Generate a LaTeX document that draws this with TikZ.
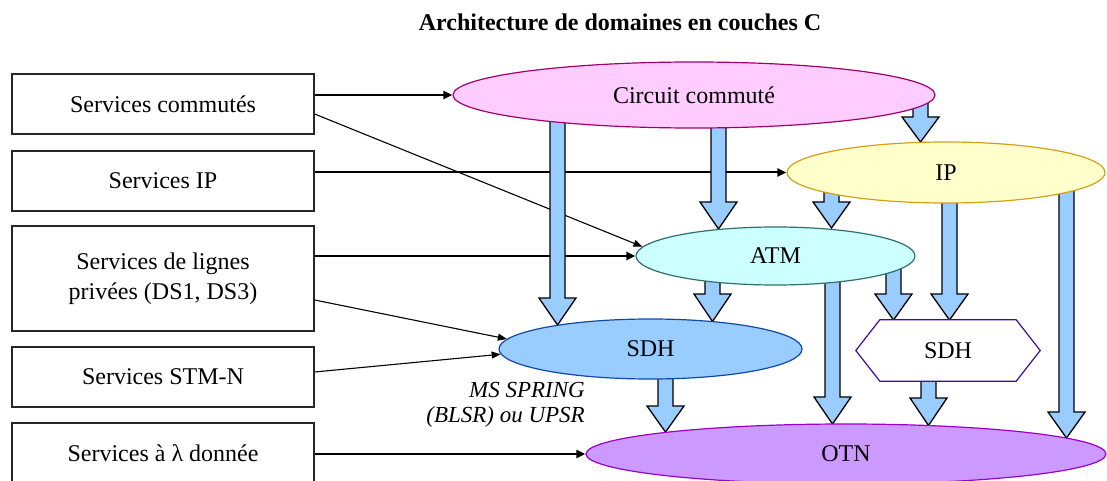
\documentclass[tikz,border=0pt]{standalone}
\usepackage{fontspec}
\setmainfont{Liberation Serif}
\usetikzlibrary{shapes.geometric,arrows.meta,calc}

\definecolor{pipefill}{HTML}{99CCFF}
\definecolor{ccfill}{HTML}{FFCCFF}\definecolor{ccline}{HTML}{A0006E}
\definecolor{ipfill}{HTML}{FFFFCC}\definecolor{ipline}{HTML}{D4A017}
\definecolor{atmfill}{HTML}{CCFFFF}\definecolor{atmline}{HTML}{2F6F6F}
\definecolor{sdhfill}{HTML}{99CCFF}\definecolor{sdhline}{HTML}{1048A8}
\definecolor{hexline}{HTML}{3A0E96}
\definecolor{otnfill}{HTML}{CC99FF}\definecolor{otnline}{HTML}{9900CC}

\pgfdeclarelayer{links}
\pgfdeclarelayer{pipes}
\pgfdeclarelayer{shapes}
\pgfsetlayers{links,pipes,shapes,main}

% fat block arrow: x, start y, head start y, tip y
\newcommand\fatarrow[4]{%
  \draw[pipe] (#1-7.5,#2) -- (#1-7.5,#3) -- (#1-18.5,#3) -- (#1,#4)
    -- (#1+18.5,#3) -- (#1+7.5,#3) -- (#1+7.5,#2);}

\begin{document}
\begin{tikzpicture}[x=1pt,y=-1pt,
  font=\fontsize{24}{30}\selectfont,
  svc/.style={draw=black!85, line width=1.3pt, minimum width=302pt,
    minimum height=60pt, inner sep=0pt, align=center},
  dom/.style={ellipse, line width=1.2pt, inner sep=0pt},
  pipe/.style={fill=pipefill, draw=black, line width=1.3pt, line join=miter},
  thick link/.style={line width=2pt, -{Triangle[length=9pt,width=8pt]}},
  thin link/.style={line width=1.1pt, -{Triangle[length=9pt,width=7pt]}}]

\useasboundingbox (0,0) rectangle (1107,481);

% title
\node[font=\bfseries\fontsize{24}{30}\selectfont] (title) at (620,22)
  {Architecture de domaines en couches C};

% service boxes
\node[svc] (s1) at (163,104) {Services commutés};
\node[svc] (s2) at (163,181) {Services IP};
\node[svc, minimum height=105pt] (s3) at (163,278.5)
  {Services de lignes\\privées (DS1, DS3)};
\node[svc] (s4) at (163,377) {Services STM-N};
\node[svc] (s5) at (163,453) {Services à λ donnée};

% domains
\node[dom, fill=ccfill, draw=ccline, minimum width=482pt, minimum height=66pt]
  (cc) at (694,95) {Circuit commuté};
\node[dom, fill=ipfill, draw=ipline, minimum width=318pt, minimum height=61pt]
  (ip) at (946,172.5) {IP};
\node[dom, fill=atmfill, draw=atmline, minimum width=279pt, minimum height=58pt]
  (atm) at (775.5,256) {ATM};
\node[dom, fill=sdhfill, draw=sdhline, minimum width=303pt, minimum height=60pt]
  (sdh1) at (650.5,349) {SDH};
\node[minimum width=184pt, minimum height=61pt, inner sep=0pt]
  (sdh2) at (948,350.5) {SDH};
\node[dom, fill=otnfill, draw=otnline, minimum width=520pt, minimum height=60pt]
  (otn) at (846,454) {OTN};

\begin{pgfonlayer}{shapes}
  \draw[fill=white, draw=hexline, line width=1.2pt]
    (sdh2.west) -- ($(sdh2.north west)+(24,0)$) -- ($(sdh2.north east)+(-24,0)$)
    -- (sdh2.east) -- ($(sdh2.south east)+(-24,0)$) -- ($(sdh2.south west)+(24,0)$)
    -- cycle;
\end{pgfonlayer}

\node[font=\itshape\fontsize{23}{25}\selectfont, align=right, anchor=east,
  inner sep=0pt] (prot) at (585,405) {MS SPRING\\(BLSR) ou UPSR};

% layer-to-layer block arrows
\begin{pgfonlayer}{pipes}
  \fatarrow{557.5}{95}{298}{325}    % cc -> sdh1
  \fatarrow{718.5}{95}{202}{229}    % cc -> atm
  \fatarrow{920.5}{95}{117}{142}    % cc -> ip
  \fatarrow{831.5}{172}{202}{228}   % ip -> atm
  \fatarrow{949.5}{172}{294}{320}   % ip -> sdh2
  \fatarrow{1066.5}{172}{412}{438}  % ip -> otn
  \fatarrow{712.5}{256}{294}{321.5} % atm -> sdh1
  \fatarrow{893.5}{256}{294}{320}   % atm -> sdh2
  \fatarrow{832.5}{256}{397}{424}   % atm -> otn
  \fatarrow{665.5}{349}{406}{432}   % sdh1 -> otn
  \fatarrow{928.5}{350}{398}{425.5} % sdh2 -> otn
\end{pgfonlayer}

% service connectors
\begin{pgfonlayer}{links}
  \draw[thick link] (s1.east |- cc.west) -- (cc.west);
  \draw[thin link] ($(s1.east)+(0,10)$) -- (atm.176);
  \draw[thick link] (s2.east |- ip.west) -- (ip.west);
  \draw[thick link] (s3.east |- atm.west) -- (atm.west);
  \draw[thin link] ($(s3.east)+(0,21.5)$) -- (sdh1.176);
  \draw[thin link] ($(s4.east)+(0,-5)$) -- (sdh1.182);
  \draw[thick link] (s5.east |- otn.west) -- (otn.west);
\end{pgfonlayer}
\end{tikzpicture}
\end{document}
